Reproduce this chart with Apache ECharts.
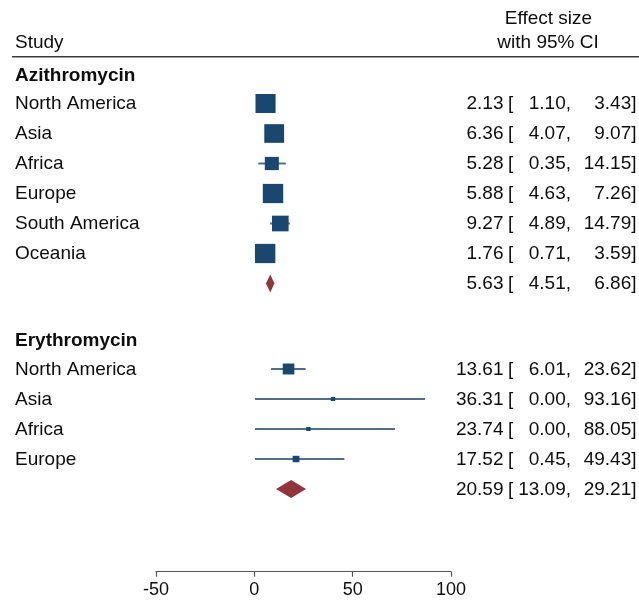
<!DOCTYPE html>
<html>
<head>
<meta charset="utf-8">
<script src="https://cdn.jsdelivr.net/npm/echarts@6/dist/echarts.min.js"></script>
<style>
html,body{margin:0;padding:0;background:#fff;}
#chart{width:639px;height:603px;}
</style>
</head>
<body>
<div id="chart"></div>
<script>
// ---------- data ----------
const groupNames = ['Azithromycin', 'Erythromycin'];

const azStudies = ['North America', 'Asia', 'Africa', 'Europe', 'South America', 'Oceania'];
// printed effect sizes with 95% CI
const azEs = [2.13, 6.36, 5.28, 5.88, 9.27, 1.76];
const azLo = [1.10, 4.07, 0.35, 4.63, 4.89, 0.71];
const azHi = [3.43, 9.07, 14.15, 7.26, 14.79, 3.59];
const azOverall = [5.63, 4.51, 6.86];
// marker positions
const azMarkEs = [5.7, 10.1, 8.9, 9.5, 13.2, 5.5];
const azMarkLo = [4.7, 7.8, 2.0, 8.3, 8.0, 4.5];
const azMarkHi = [7.0, 12.8, 16.0, 10.9, 18.1, 7.3];
const azMarkOverall = [8.1, 5.9, 10.2];
const azWeight = [17.4, 16.9, 8.5, 17.9, 11.9, 17.9];

const eryStudies = ['North America', 'Asia', 'Africa', 'Europe'];
const eryEs = [13.61, 36.31, 23.74, 17.52];
const eryLo = [6.01, 0.00, 0.00, 0.45];
const eryHi = [23.62, 93.16, 88.05, 49.43];
const eryOverall = [20.59, 13.09, 29.21];
const eryMarkEs = [17.4, 40.0, 27.5, 21.2];
const eryMarkLo = [8.5, 0.3, 0.3, 0.3];
const eryMarkHi = [26.1, 86.8, 71.5, 45.8];
const eryMarkOverall = [18.7, 11.0, 26.3];
const eryWeight = [5.8, 0.8, 0.8, 2.0];

const xTicks = [-50, 0, 50, 100];

// ---------- build rows ----------
const groups = [
  {name: groupNames[0], studies: azStudies, es: azEs, lo: azLo, hi: azHi, ov: azOverall,
   mEs: azMarkEs, mLo: azMarkLo, mHi: azMarkHi, mOv: azMarkOverall, w: azWeight},
  {name: groupNames[1], studies: eryStudies, es: eryEs, lo: eryLo, hi: eryHi, ov: eryOverall,
   mEs: eryMarkEs, mLo: eryMarkLo, mHi: eryMarkHi, mOv: eryMarkOverall, w: eryWeight}
];
const SPACER = 0.85;   // height of the blank gap between groups, in rows
const textRows = [];   // {row, label, bold, es, lo, hi}
const studyData = [];  // [row, es, lo, hi, w]
const diamondData = []; // [row, es, lo, hi]
let r = 0;
groups.forEach((g, gi) => {
  textRows.push({row: r, label: g.name, bold: true});
  r++;
  g.studies.forEach((s, i) => {
    textRows.push({row: r, label: s, es: g.es[i], lo: g.lo[i], hi: g.hi[i]});
    studyData.push([r, g.mEs[i], g.mLo[i], g.mHi[i], g.w[i]]);
    r++;
  });
  textRows.push({row: r, label: '', es: g.ov[0], lo: g.ov[1], hi: g.ov[2]});
  diamondData.push([r, g.mOv[0], g.mOv[1], g.mOv[2]]);
  r++;
  if (gi < groups.length - 1) r += SPACER;
});
const lastRow = r - 1;

const FONT = 'Liberation Sans, Arial, sans-serif';
const FS = 19;
const TXT = '#0d0d0d';

const chart = echarts.init(document.getElementById('chart'), null, {renderer: 'canvas'});

const rowH = 30;
const gridTop = 58.5;
const gridH = rowH * (lastRow + 1);
const axisY = 571.7;

function fmt(v) { return v.toFixed(2); }

const option = {
  animation: false,
  backgroundColor: '#fff',
  textStyle: {fontFamily: FONT},
  grid: {left: 156, right: 188, top: gridTop, height: gridH},
  xAxis: {
    type: 'value', min: xTicks[0], max: xTicks[xTicks.length - 1], interval: 50,
    offset: axisY - (gridTop + gridH),
    axisLine: {show: true, onZero: false, lineStyle: {color: '#555', width: 1.2}},
    axisTick: {show: true, length: 5, lineStyle: {color: '#555', width: 1.2}},
    axisLabel: {fontSize: 18, color: TXT, margin: 9, fontFamily: FONT},
    splitLine: {show: false}
  },
  yAxis: {
    type: 'value', inverse: true, min: -0.5, max: lastRow + 0.5, show: false
  },
  graphic: [
    {type: 'text', left: 15, top: 33, style: {text: 'Study', font: FS + 'px ' + FONT, fill: TXT}},
    {type: 'text', x: 548.5, y: 19, style: {text: 'Effect size', font: FS + 'px ' + FONT, fill: TXT, align: 'center', verticalAlign: 'middle'}},
    {type: 'text', x: 548, y: 43, style: {text: 'with 95% CI', font: FS + 'px ' + FONT, fill: TXT, align: 'center', verticalAlign: 'middle'}},
    {type: 'line', shape: {x1: 12, y1: 56.7, x2: 639, y2: 56.7}, style: {stroke: '#3a3a3a', lineWidth: 1.6}}
  ],
  series: [
    {
      type: 'custom', clip: false, silent: true,
      data: studyData,
      encode: {x: [1, 2, 3], y: 0},
      renderItem: function (params, api) {
        const row = api.value(0);
        const c = api.coord([api.value(1), row]);
        const l = api.coord([api.value(2), row]);
        const h = api.coord([api.value(3), row]);
        const side = Math.sqrt(api.value(4)) * 4.55;
        const wdt = side * 1.06;
        return {type: 'group', children: [
          {type: 'line', shape: {x1: l[0], y1: l[1], x2: h[0], y2: h[1]},
           style: {stroke: '#4e6e8e', lineWidth: 2}},
          {type: 'rect', shape: {x: c[0] - wdt / 2, y: c[1] - side / 2, width: wdt, height: side},
           style: {fill: '#1a476f'}}
        ]};
      }
    },
    {
      type: 'custom', clip: false, silent: true,
      data: diamondData,
      encode: {x: [1, 2, 3], y: 0},
      renderItem: function (params, api) {
        const row = api.value(0);
        const c = api.coord([api.value(1), row]);
        const l = api.coord([api.value(2), row]);
        const h = api.coord([api.value(3), row]);
        const hh = 9;
        return {type: 'polygon', shape: {points: [[l[0], l[1]], [c[0], c[1] - hh], [h[0], h[1]], [c[0], c[1] + hh]]},
          style: {fill: '#90353b'}};
      }
    },
    {
      type: 'custom', clip: false, silent: true,
      data: textRows.map(t => [0, t.row]),
      encode: {x: 0, y: 1},
      renderItem: function (params, api) {
        const t = textRows[params.dataIndex];
        const y = api.coord([0, t.row])[1];
        const font = (t.bold ? 'bold ' : '') + FS + 'px ' + FONT;
        const ch = [];
        if (t.label) {
          ch.push({type: 'text', x: 15, y: y + (t.bold ? 2 : 0.5), style: {text: t.label, font: font, fill: TXT, align: 'left', verticalAlign: 'middle'}});
        }
        if (t.es !== undefined) {
          const f = FS + 'px ' + FONT;
          const yy = y + 0.5;
          ch.push({type: 'text', x: 503.5, y: yy, style: {text: fmt(t.es), font: f, fill: TXT, align: 'right', verticalAlign: 'middle'}});
          ch.push({type: 'text', x: 508, y: yy, style: {text: '[', font: f, fill: TXT, align: 'left', verticalAlign: 'middle'}});
          ch.push({type: 'text', x: 571, y: yy, style: {text: fmt(t.lo) + ',', font: f, fill: TXT, align: 'right', verticalAlign: 'middle'}});
          ch.push({type: 'text', x: 636.5, y: yy, style: {text: fmt(t.hi) + ']', font: f, fill: TXT, align: 'right', verticalAlign: 'middle'}});
        }
        return {type: 'group', children: ch};
      }
    }
  ]
};
chart.setOption(option);
</script>
</body>
</html>
